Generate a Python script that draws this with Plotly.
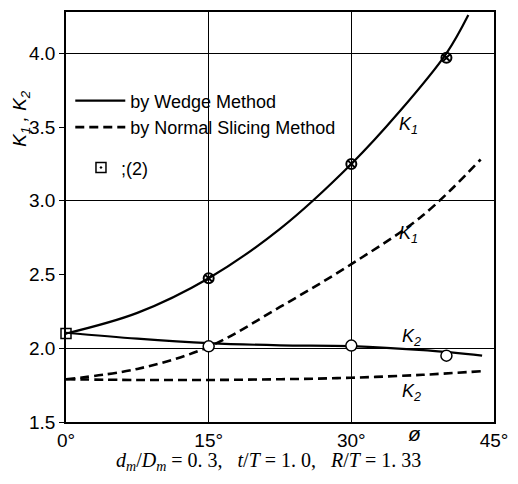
import plotly.graph_objects as go

# ---- data ----
phi_k1_wedge = [0, 7.5, 15, 22.5, 30, 35, 40, 42.3]
k1_wedge = [2.10, 2.24, 2.475, 2.81, 3.25, 3.60, 4.00, 4.26]

phi_k1_normal = [0, 7.5, 15, 22.5, 30, 37.5, 43.6]
k1_normal = [1.79, 1.86, 2.01, 2.28, 2.57, 2.90, 3.28]

phi_k2_wedge = [0, 7.5, 15, 22.5, 30, 38, 43.75]
k2_wedge = [2.105, 2.065, 2.035, 2.02, 2.015, 1.985, 1.95]

phi_k2_normal = [0, 7.5, 15, 22.5, 30, 37.5, 43.75]
k2_normal = [1.79, 1.785, 1.785, 1.79, 1.80, 1.82, 1.845]

phi_k1_points = [15, 30, 40]
k1_points = [2.475, 3.25, 3.97]

phi_k2_points = [15, 30, 40]
k2_points = [2.013, 2.018, 1.95]

phi_ref2 = [0]
k_ref2 = [2.10]

x_tickvals = [0, 15, 30, 45]
x_ticktext = ["0°", "15°", "30°", "45°"]
y_tickvals = [1.5, 2.0, 2.5, 3.0, 3.5, 4.0]
y_ticktext = ["1.5", "2.0", "2.5", "3.0", "3.5", "4.0"]
y_gridvals = [2.0, 3.0, 4.0]

LW = 2.2
fig = go.Figure()

fig.add_trace(go.Scatter(x=phi_k1_wedge, y=k1_wedge, mode="lines",
                         line=dict(color="black", width=LW, shape="spline"),
                         name="by Wedge Method", showlegend=True))
fig.add_trace(go.Scatter(x=phi_k2_wedge, y=k2_wedge, mode="lines",
                         line=dict(color="black", width=LW, shape="spline"),
                         name="K2 wedge", showlegend=False))
fig.add_trace(go.Scatter(x=phi_k1_normal, y=k1_normal, mode="lines",
                         line=dict(color="black", width=2.6, shape="spline", dash="9px,5px"),
                         name="by Normal Slicing Method", showlegend=True))
fig.add_trace(go.Scatter(x=phi_k2_normal, y=k2_normal, mode="lines",
                         line=dict(color="black", width=2.6, shape="spline", dash="9px,5px"),
                         name="K2 normal", showlegend=False))
fig.add_trace(go.Scatter(x=phi_k1_points, y=k1_points, mode="markers",
                         marker=dict(symbol="circle-x-open", size=10, color="black",
                                     line=dict(width=2, color="black")),
                         showlegend=False))
fig.add_trace(go.Scatter(x=phi_k2_points, y=k2_points, mode="markers",
                         marker=dict(symbol="circle", size=11, color="white",
                                     line=dict(width=1.5, color="black")),
                         showlegend=False))
fig.add_trace(go.Scatter(x=phi_ref2, y=k_ref2, mode="markers",
                         marker=dict(symbol="square-open-dot", size=10, color="black",
                                     line=dict(width=1.5, color="black")),
                         name=";(2)", legend="legend2", showlegend=True, cliponaxis=False))

labels = [
    (36.0, 3.51, "K<sub>1</sub>"),
    (36.0, 2.77, "K<sub>1</sub>"),
    (36.3, 2.075, "K<sub>2</sub>"),
    (36.3, 1.70, "K<sub>2</sub>"),
]
annotations = []
for lx, ly, lt in labels:
    annotations.append(dict(x=lx, y=ly, xref="x", yref="y", text="<i>" + lt + "</i>",
                            xanchor="center", yanchor="middle",
                            showarrow=False, font=dict(family="Liberation Sans", size=18, color="black")))

annotations.append(dict(x=-0.107, y=0.74, xref="paper", yref="paper",
                        xanchor="center", yanchor="middle",
                        text="<i>K<sub>1</sub> , K<sub>2</sub></i>", textangle=-90,
                        showarrow=False, font=dict(family="Liberation Sans", size=19, color="black")))
annotations.append(dict(x=0.815, y=-0.027, xref="paper", yref="paper", text="<i>ø</i>",
                        xanchor="center", yanchor="middle",
                        showarrow=False, font=dict(family="Liberation Sans", size=21, color="black")))
annotations.append(dict(x=0.472, y=-0.097, xref="paper", yref="paper",
                        xanchor="center", yanchor="middle",
                        text="<i>d<sub>m</sub></i>/<i>D<sub>m</sub></i> = 0. 3,&nbsp;&nbsp;&nbsp;<i>t</i>/<i>T</i> = 1. 0,&nbsp;&nbsp;&nbsp;<i>R</i>/<i>T</i> = 1. 33",
                        showarrow=False, font=dict(family="Liberation Serif", size=20, color="black")))

fig.update_layout(
    width=518, height=484,
    margin=dict(l=66, r=20, t=10, b=62),
    paper_bgcolor="white", plot_bgcolor="white",
    showlegend=True,
    legend=dict(x=0.01, y=0.828, xanchor="left", yanchor="top",
                bgcolor="rgba(0,0,0,0)", font=dict(family="Liberation Sans", size=18, color="black"),
                itemwidth=50),
    legend2=dict(x=0.035, y=0.665, xanchor="left", yanchor="top",
                 bgcolor="rgba(0,0,0,0)", font=dict(family="Liberation Sans", size=18, color="black"),
                 itemwidth=30),
    annotations=annotations,
    font=dict(family="Liberation Sans", color="black"),
)
fig.update_xaxes(range=[0, 45], tickvals=x_tickvals, ticktext=x_ticktext,
                 showgrid=True, gridcolor="black", gridwidth=1,
                 showline=True, linecolor="black", linewidth=1.5, mirror=True,
                 ticks="", zeroline=False, tickfont=dict(size=19, family="Liberation Sans"))
fig.update_yaxes(range=[1.5, 4.28], tickvals=y_tickvals, ticktext=y_ticktext,
                 showgrid=False,
                 minor=dict(tickvals=y_gridvals, showgrid=True, gridcolor="black", gridwidth=1, ticks=""),
                 showline=True, linecolor="black", linewidth=1.5, mirror=True,
                 ticks="outside", ticklen=5, tickcolor="black", zeroline=False,
                 tickfont=dict(size=19, family="Liberation Sans"))

fig.write_html("out.html")
